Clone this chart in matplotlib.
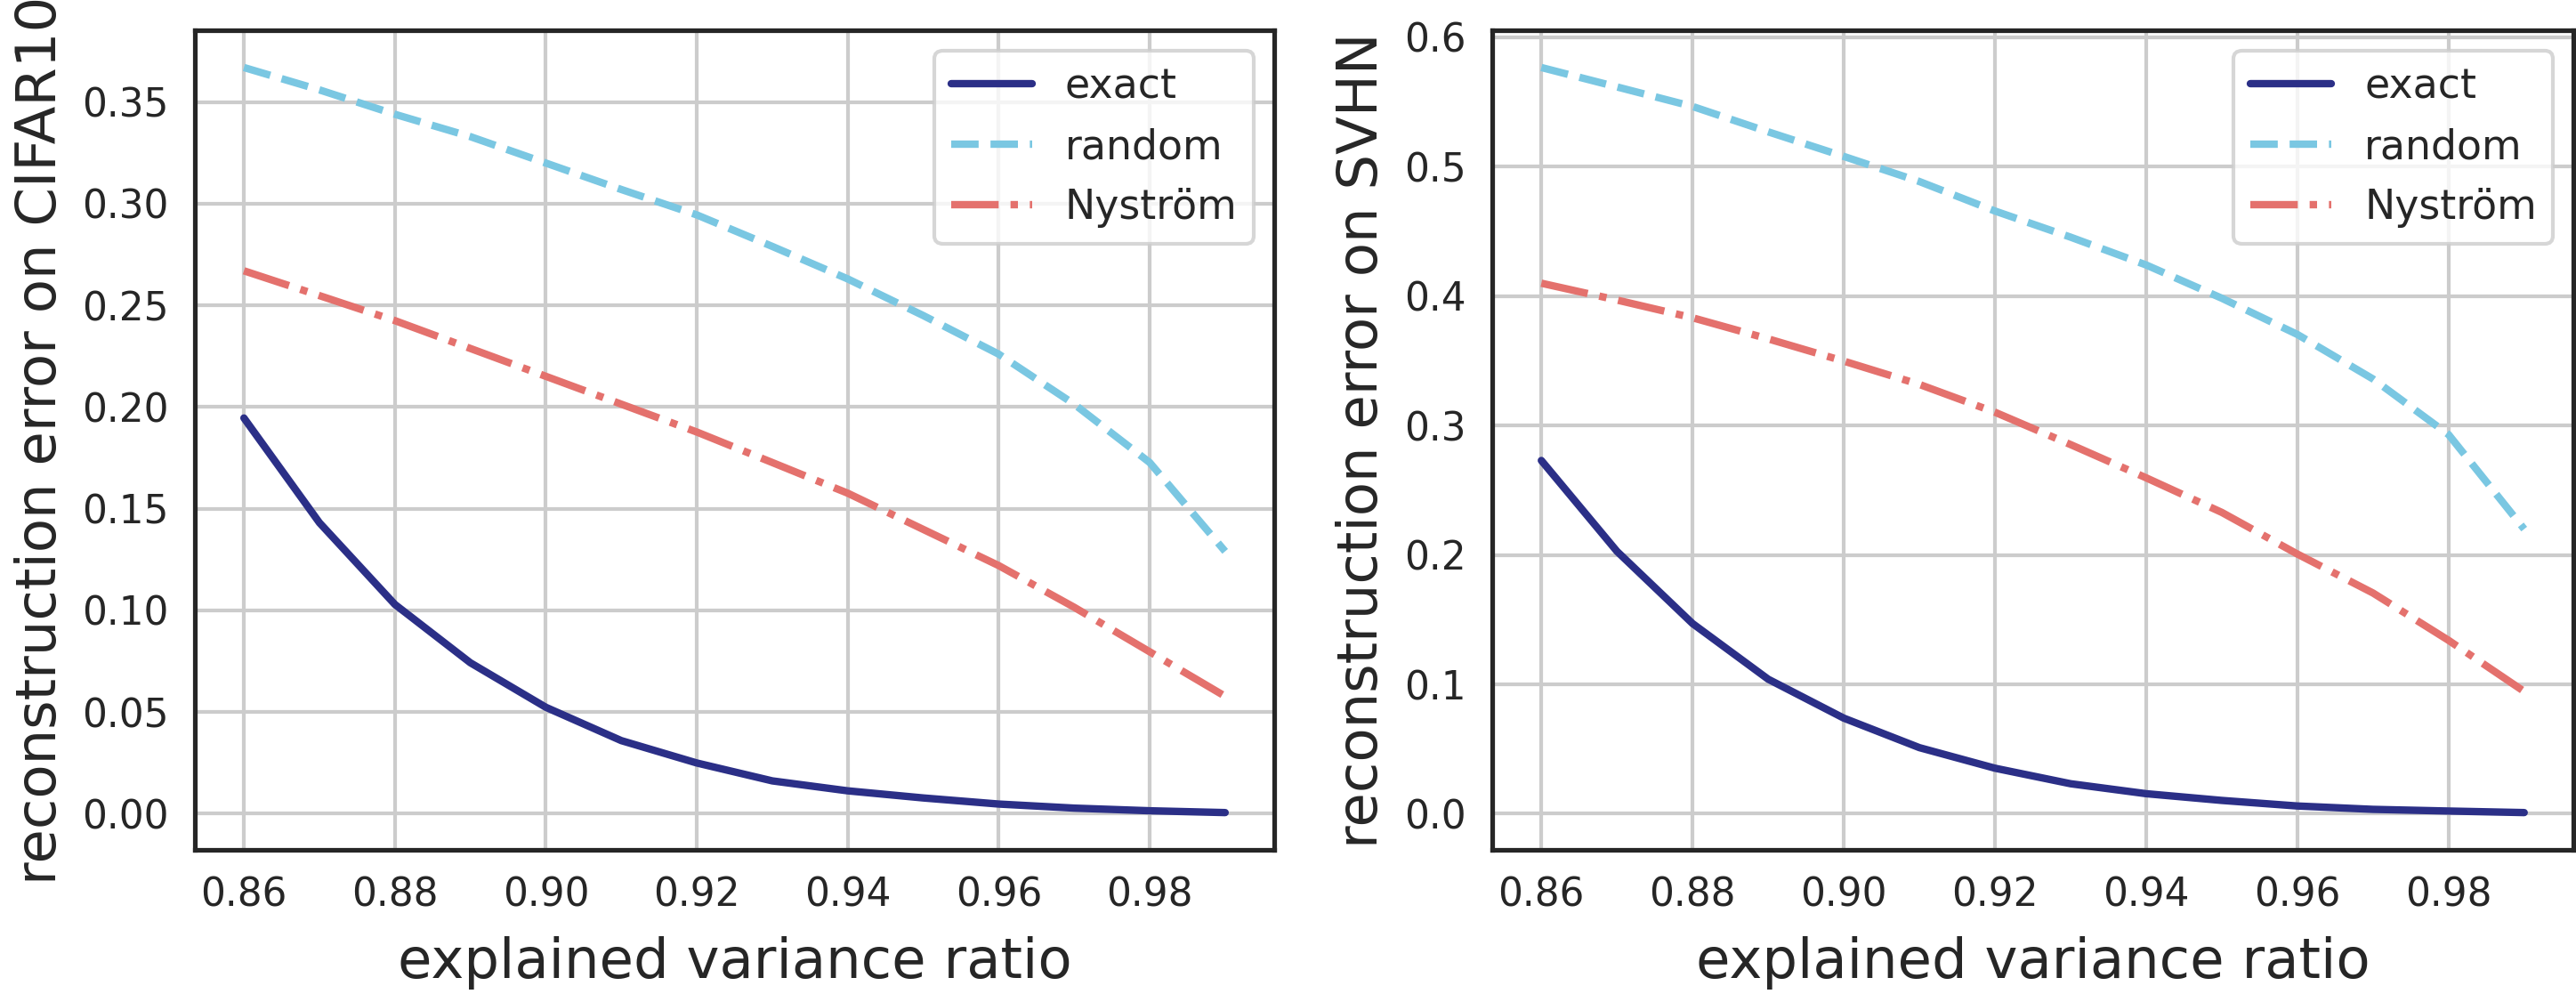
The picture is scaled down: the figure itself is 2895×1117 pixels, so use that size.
import numpy as np
import matplotlib
matplotlib.use("Agg")
import matplotlib.pyplot as plt

# explained variance ratio
evr = [0.86, 0.87, 0.88, 0.89, 0.90, 0.91, 0.92, 0.93, 0.94, 0.95, 0.96, 0.97, 0.98, 0.99]

# CIFAR10
cifar_exact = [0.1946, 0.1431, 0.1029, 0.0742, 0.0523, 0.0359, 0.0249, 0.0161, 0.0112, 0.0077, 0.0047, 0.0027, 0.0014, 0.0005]
cifar_random = [0.367, 0.356, 0.344, 0.333, 0.320, 0.307, 0.2945, 0.279, 0.263, 0.245, 0.226, 0.2014, 0.1727, 0.129]
cifar_nystrom = [0.267, 0.2548, 0.2425, 0.2288, 0.2151, 0.2014, 0.1877, 0.1727, 0.1576, 0.1398, 0.122, 0.1015, 0.0796, 0.0577]

# SVHN
svhn_exact = [0.273, 0.2028, 0.147, 0.104, 0.0739, 0.0511, 0.0352, 0.0232, 0.0155, 0.0103, 0.006, 0.0034, 0.0021, 0.0009]
svhn_random = [0.5767, 0.5617, 0.5466, 0.527, 0.508, 0.4886, 0.4658, 0.4456, 0.4241, 0.3984, 0.3704, 0.336, 0.293, 0.22]
svhn_nystrom = [0.41, 0.397, 0.3833, 0.367, 0.3498, 0.3318, 0.3103, 0.2853, 0.2596, 0.2329, 0.2007, 0.1706, 0.134, 0.0945]

dark = '#262626'
plt.rcParams['font.family'] = ['DejaVu Sans']
plt.rcParams['text.color'] = dark
plt.rcParams['axes.labelcolor'] = dark
plt.rcParams['xtick.color'] = dark
plt.rcParams['ytick.color'] = dark

fig = plt.figure(figsize=(9.65, 1117 / 300), dpi=300)
ax1 = fig.add_axes([219 / 2895, 1 - 955 / 1117, 1213 / 2895, 921 / 1117])
ax2 = fig.add_axes([1677 / 2895, 1 - 955 / 1117, 1215 / 2895, 921 / 1117])

panels = [(ax1, cifar_exact, cifar_random, cifar_nystrom, 'reconstruction error on CIFAR10', '%.2f'),
          (ax2, svhn_exact, svhn_random, svhn_nystrom, 'reconstruction error on SVHN', '%.1f')]

for ax, ex, rn, ny, ylab, fmt in panels:
    ax.plot(evr, ex, color='#2b2f87', lw=2, ls='-', label='exact', solid_capstyle='round')
    ax.plot(evr, rn, color='#7ac7e2', lw=2, ls='--', label='random')
    ax.plot(evr, ny, color='#e4716d', lw=2, ls='-.', label='Nyström')
    ax.grid(True, color='#cccccc', lw=1)
    ax.set_axisbelow(True)
    for s in ax.spines.values():
        s.set_color(dark)
        s.set_linewidth(1.25)
    ax.tick_params(length=0, labelsize=10.5, pad=7)
    ax.set_xticks([0.86, 0.88, 0.90, 0.92, 0.94, 0.96, 0.98])
    ax.xaxis.set_major_formatter(matplotlib.ticker.FormatStrFormatter('%.2f'))
    ax.yaxis.set_major_formatter(matplotlib.ticker.FormatStrFormatter(fmt))
    ax.set_xlabel('explained variance ratio', fontsize=15, labelpad=6)
    ax.set_ylabel(ylab, fontsize=15)
    leg = ax.legend(loc='upper right', fontsize=11, framealpha=0.8, edgecolor='#cccccc', fancybox=True)

ax2.set_yticks([0.0, 0.1, 0.2, 0.3, 0.4, 0.5, 0.6])

fig.savefig('out.png', dpi=300)
